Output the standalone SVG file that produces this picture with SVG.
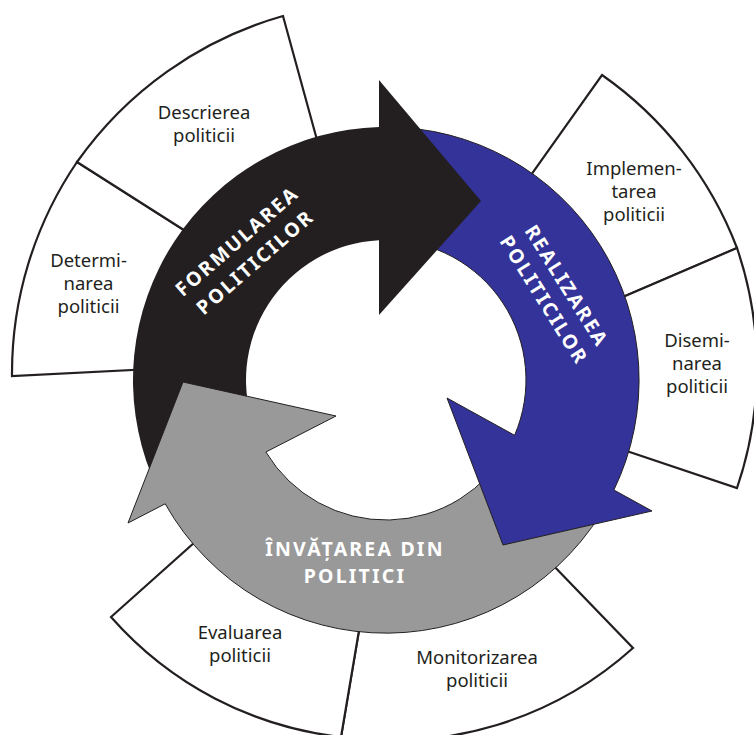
<svg xmlns="http://www.w3.org/2000/svg" width="754" height="735" viewBox="0 0 754 735">
  <style>
    .seg { fill: #ffffff; stroke: #231f20; stroke-width: 2.2; stroke-linejoin: miter; }
    .lbl { font-family: "Noto Sans", "Open Sans", "Liberation Sans", sans-serif; font-size: 18.5px; fill: #231f20; text-anchor: middle; }
    .big { font-family: "Noto Sans", "Open Sans", "Liberation Sans", sans-serif; font-size: 19.5px; font-weight: bold; fill: #ffffff; text-anchor: middle; letter-spacing: 2.2px; }
    .blk { fill: #231f20; }
    .blu { fill: #333399; stroke: #231f20; stroke-width: 1; }
    .gry { fill: #999999; stroke: #231f20; stroke-width: 1; }
  </style>
  <rect width="754" height="735" fill="#ffffff"/>

  <g id="segments">
    <g id="seg-determinarea">
      <path class="seg" d="M 12,376 A 376 376 0 0 1 77,162 L 220,253 L 181,367.5 Z"/>
      <text class="lbl" x="88.5" y="267">Determi-</text>
      <text class="lbl" x="88.5" y="290">narea</text>
      <text class="lbl" x="88.5" y="313">politicii</text>
    </g>
    <g id="seg-descrierea">
      <path class="seg" d="M 77,162 A 378 378 0 0 1 283,16 L 328,180 L 220,253 Z"/>
      <text class="lbl" x="204" y="119">Descrierea</text>
      <text class="lbl" x="204" y="142">politicii</text>
    </g>
    <g id="seg-implementarea">
      <path class="seg" d="M 602,75 A 374 374 0 0 1 737,248 L 581,315 L 504,213 Z"/>
      <text class="lbl" x="634" y="175">Implemen-</text>
      <text class="lbl" x="634" y="198">tarea</text>
      <text class="lbl" x="634" y="221">politicii</text>
    </g>
    <g id="seg-diseminarea">
      <path class="seg" d="M 737,248 A 371 371 0 0 1 737,488 L 582,436 L 581,315 Z"/>
      <text class="lbl" x="697" y="347">Disemi-</text>
      <text class="lbl" x="697" y="370">narea</text>
      <text class="lbl" x="697" y="393">politicii</text>
    </g>
    <g id="seg-monitorizarea">
      <path class="seg" d="M 633,648 A 360 360 0 0 1 341,737 L 367,583 L 521,532 Z"/>
      <text class="lbl" x="477" y="664">Monitorizarea</text>
      <text class="lbl" x="477" y="687">politicii</text>
    </g>
    <g id="seg-evaluarea">
      <path class="seg" d="M 341,737 A 360 360 0 0 1 111,617 L 232,509 L 367,583 Z"/>
      <text class="lbl" x="240" y="639">Evaluarea</text>
      <text class="lbl" x="240" y="662">politicii</text>
    </g>
  </g>

  <g id="arrows">
    <g id="arrow-formularea-band">
      <path class="blk" d="M 151.42,474.78 A 253 253 0 0 1 379,127.1 L 379,240.2 A 140 140 0 0 0 256.2,432.45 Z"/>
    </g>
    <g id="arrow-invatarea">
      <path class="gry" d="M 609.39,498.78 A 253 253 0 0 1 165.2,503.8 L 128,523 L 183,382 L 336,416 L 265.9,452 A 140 140 0 0 0 509.61,445.73 Z"/>
      <text class="big" x="355" y="556">ÎNVĂȚAREA DIN</text>
      <text class="big" x="355" y="583">POLITICI</text>
    </g>
    <g id="arrow-realizarea">
      <path class="blu" d="M 386,127 A 253 253 0 0 1 613.9,490 L 652,511 L 503,545 L 447,398 L 514.6,435.3 A 140 140 0 0 0 386,240 Z"/>
      <g transform="translate(555.5,293) rotate(58)">
        <text class="big" x="0" y="-6.4">REALIZAREA</text>
        <text class="big" x="0" y="20.4">POLITICILOR</text>
      </g>
    </g>
    <g id="arrow-formularea">
      <path class="blk" d="M 379,80 L 481,201 L 379,315 Z"/>
      <g transform="translate(246,251.5) rotate(-41)">
        <text class="big" x="0" y="-6.8">FORMULAREA</text>
        <text class="big" x="0" y="20.8">POLITICILOR</text>
      </g>
    </g>
  </g>
</svg>
